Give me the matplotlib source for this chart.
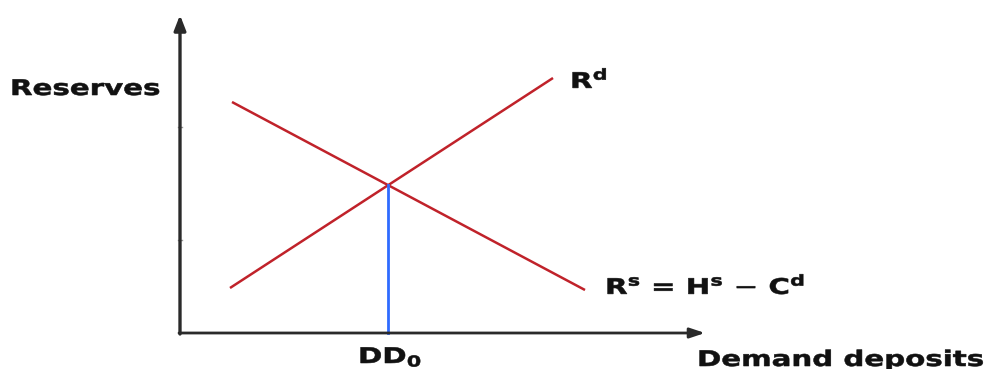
import matplotlib
matplotlib.use("Agg")
import matplotlib.pyplot as plt
from matplotlib import patheffects
from matplotlib.transforms import Affine2D

# Data (in chart units: origin at the axes corner)
rd_x = [50, 373]
rd_y = [45, 255]
rs_x = [52, 405]
rs_y = [231, 43]
dd0_x = 208
dd0_y = 148
yaxis_top = 318
xaxis_end = 525
ytick_vals = [93, 206]


class Stretch(patheffects.AbstractPathEffect):
    """Widen and embolden glyphs (the reference text is stretched, heavy)."""
    def __init__(self, sx=1.4, lw=0.6):
        super().__init__()
        self.sx = sx
        self.lw = lw

    def draw_path(self, renderer, gc, tpath, affine, rgbFace=None):
        gc0 = renderer.new_gc()
        gc0.copy_properties(gc)
        gc0.set_linewidth(self.lw)
        if rgbFace is not None:
            gc0.set_foreground(rgbFace)
        gc0.set_joinstyle('round')
        renderer.draw_path(gc0, tpath, Affine2D().scale(self.sx, 1.0) + affine, rgbFace)
        gc0.restore()


fig = plt.figure(figsize=(9.93, 3.69), dpi=100)
ax = fig.add_axes([0, 0, 1, 1])
ax.set_xlim(-180, 813)
ax.set_ylim(-36, 333)
ax.axis('off')

axis_col = '#2a2a2a'
red = '#c0222a'
blue = '#2f6bff'

# axes with arrows
ax.annotate('', xy=(0, yaxis_top), xytext=(0, -1),
            arrowprops=dict(arrowstyle='-|>,head_length=0.9,head_width=0.35', color=axis_col, lw=2.4, shrinkA=0, shrinkB=0))
ax.annotate('', xy=(xaxis_end, 0), xytext=(-1, 0),
            arrowprops=dict(arrowstyle='-|>,head_length=0.9,head_width=0.3', color=axis_col, lw=2.0, shrinkA=0, shrinkB=0))
for t in ytick_vals:
    ax.plot([-2, 2], [t, t], color='#999999', lw=1)

ax.plot(rd_x, rd_y, color=red, lw=1.8, solid_capstyle='butt')
ax.plot(rs_x, rs_y, color=red, lw=1.8, solid_capstyle='butt')
ax.plot([dd0_x, dd0_x], [0, dd0_y], color=blue, lw=2.0)

fs = 15.5
pe = [Stretch(1.36, 0.4)]
kw = dict(fontsize=fs, fontweight='bold', ha='left', va='baseline', color='#111111', path_effects=pe)
ax.text(-170, 238, 'Reserves', **kw)
ax.text(390, 245, r'R$^\mathbf{d}$', **kw)
ax.text(425, 39, r'R$^\mathbf{s}$ = H$^\mathbf{s}$ $-$ C$^\mathbf{d}$', **kw)
ax.text(178, -30, r'DD$_\mathbf{0}$', **kw)
ax.text(517, -33, 'Demand deposits', **kw)

fig.savefig('out.png', dpi=100)
